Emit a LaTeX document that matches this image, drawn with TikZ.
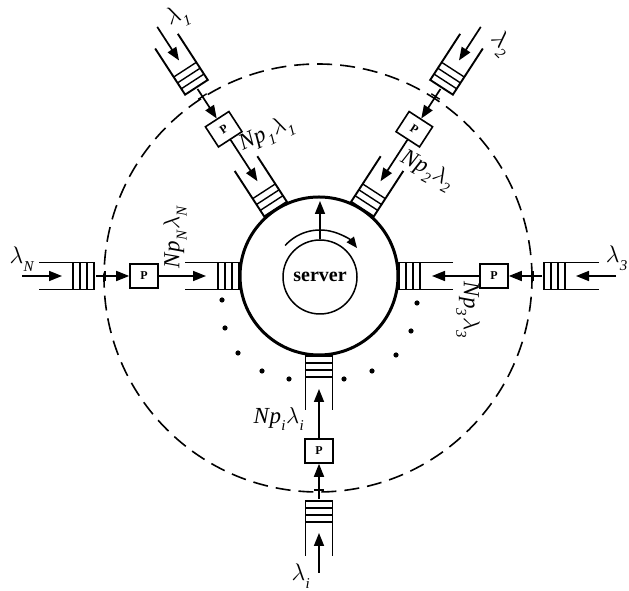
\documentclass[tikz,border=0pt]{standalone}
\usepackage{fix-cm}
\usepackage{fontspec}
\setmainfont{Liberation Serif}
\usetikzlibrary{calc,arrows.meta}
\newcommand\lsub[1]{\kern0.3pt\raisebox{-0.32em}{\fontsize{15}{15}\selectfont #1}\kern0.6pt}
\newcommand\lmb{\ensuremath{\lambda}}
\tikzset{
  x=1pt, y=1pt,
  qline/.style={line width=1.9pt},
  sline/.style={line width=1.4pt},
  flow/.style={line width=1.7pt, -{Triangle[length=13pt,width=10pt]}},
  pbox/.style={draw, fill=white, line width=1.6pt, minimum width=28pt, minimum height=24pt, inner sep=0pt, font=\fontsize{12}{12}\selectfont\bfseries},
  lab/.style={font=\fontsize{23}{23}\selectfont\itshape, inner sep=0pt},
  lam/.style={font=\fontsize{24}{24}\selectfont\itshape, inner sep=0pt},
  dashc/.style={line width=1.6pt, dash pattern=on 15pt off 8pt},
  dot/.style={circle, fill, inner sep=0pt, minimum size=5.2pt},
}
\newcommand\qray[3]{%
\begin{scope}[shift={(C)}, rotate=#1]
  \draw[qline] (280,13.5) -- (225,13.5) -- (225,-13.5) -- (280,-13.5);
  \foreach \d in {232,239,246} \draw[sline] (\d,13.5) -- (\d,-13.5);
  \coordinate (#2s) at (297,0);
  \coordinate (#2t) at (257,0);
  \draw[flow] (#2s) -- (#2t);
  \coordinate (#2k1) at (214,5);
  \coordinate (#2k2) at (214,-5);
  \draw[sline] (#2k1) -- (#2k2);
  \coordinate (#2q) at (223,0);
  \node[pbox, rotate=#3] (#2p) at (175,0) {P};
  \draw[flow] (#2q) -- (#2p);
  \coordinate (#2r) at (113,0);
  \draw[flow] (#2p) -- (#2r);
  \draw[qline] (134,13.5) -- (76,13.5);
  \draw[qline] (134,-13.5) -- (76,-13.5);
  \foreach \d in {80,87,94,101} \draw[sline] (\d,13.5) -- (\d,-13.5);
\end{scope}}
\begin{document}
\begin{tikzpicture}
\useasboundingbox (0,0) rectangle (629,591);
\coordinate (C) at (319,315);
\draw[dashc] (318,313) circle (214);
\qray{123}{a}{33}
\qray{57}{b}{-33}
\qray{180}{n}{0}
\qray{0}{c}{0}
\qray{270}{i}{0}
\node[circle, draw, fill=white, line width=3pt, minimum size=158pt] (srv) at (C) {};
\node[circle, draw, line width=1.5pt, minimum size=74pt, font=\bfseries\fontsize{20}{20}\selectfont] (core) at (320,314) {server};
\draw[line width=1.5pt, -{Triangle[length=11pt,width=9pt]}] (core.center) ++(138:47) arc[start angle=138, end angle=38, radius=47];
\coordinate (up) at (320,390);
\draw[flow] (core.north) -- (up);
% dots
\foreach \p [count=\k] in {(222,291),(225,263),(238,238),(262,220),(289,212),(344,212),(372,220),(396,236),(411,260),(417,288)}
  \node[dot] (d\k) at \p {};
% lambda labels
\node[lam, rotate=25] (l1) at (178,574) {\lmb\lsub{1}};
\node[lam, rotate=-45] (l2) at (501,547) {\lmb\lsub{2}};
\node[lam] (lN) at (22,332) {\lmb\lsub{N}};
\node[lam] (l3) at (617,333) {\lmb\lsub{3}};
\node[lam] (li) at (301,15) {\lmb\lsub{i}};
% rate labels
\node[lab, rotate=25] (r1) at (267,456) {N\kern0.5pt p\lsub{1}\lmb\lsub{1}};
\node[lab, rotate=-28] (r2) at (427,420) {N\kern0.5pt p\lsub{2}\lmb\lsub{2}};
\node[lab, rotate=90] (rN) at (175,354) {N\kern0.5pt p\lsub{N}\lmb\lsub{N}};
\node[lab, rotate=-90] (r3) at (468,281) {N\kern0.5pt p\lsub{3}\lmb\lsub{3}};
\node[lab] (ri) at (279,172) {N\kern0.5pt p\lsub{i}\lmb\lsub{i}};
\end{tikzpicture}
\end{document}
